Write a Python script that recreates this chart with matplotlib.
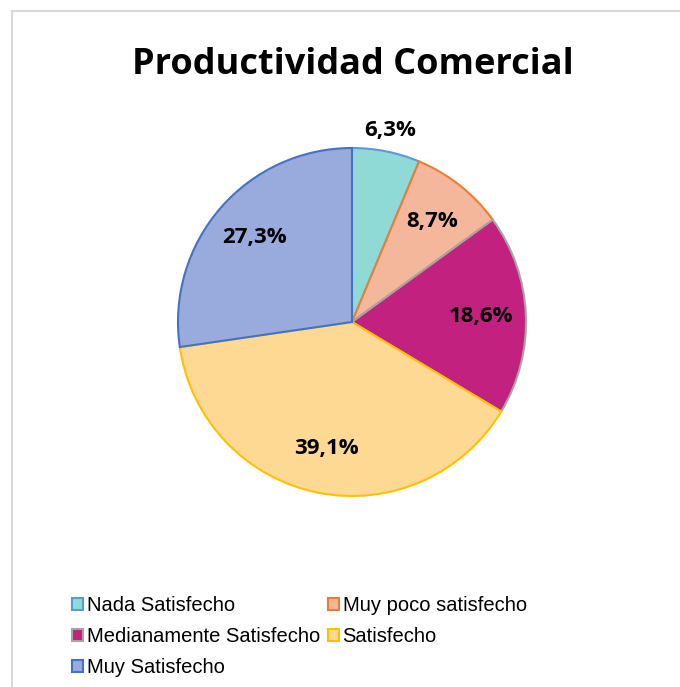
import numpy as np
import matplotlib.pyplot as plt
from matplotlib.patches import Rectangle

# Datos del gráfico
categorias = ['Nada Satisfecho', 'Muy poco satisfecho', 'Medianamente Satisfecho',
              'Satisfecho', 'Muy Satisfecho']
porcentajes = [6.3, 8.7, 18.6, 39.1, 27.3]

relleno = ['#8fd9d6', '#f5b79b', '#c2217f', '#fed993', '#99aadc']
bordes = ['#5b9bd5', '#ed7d31', '#a5a5a5', '#ffc000', '#4472c4']

W, H = 680, 687
fig = plt.figure(figsize=(W / 100, H / 100), dpi=100)

# Marco gris del área del gráfico (recortado a la derecha y abajo)
fig.patches.append(Rectangle((11.5 / W, -0.1), 1.2, 1 - 10.5 / H + 0.1,
                             transform=fig.transFigure, fill=False,
                             edgecolor='#d9d9d9', linewidth=1.5))

fig.text(353 / W, 1 - 65 / H, 'Productividad Comercial', ha='center', va='center',
         fontsize=26, fontweight='bold', family='Open Sans')

cx, cy, r = 352, 322, 174
ax = fig.add_axes([(cx - r) / W, (H - cy - r) / H, 2 * r / W, 2 * r / H])

wedges, textos, pcts = ax.pie(
    porcentajes, colors=relleno, startangle=90, counterclock=False,
    autopct=lambda p: f'{p:.1f}%'.replace('.', ','), pctdistance=0.74,
    wedgeprops=dict(linewidth=1.5),
    textprops=dict(fontsize=16, fontweight='bold', family='Open Sans'))

for w, c in zip(wedges, bordes):
    w.set_edgecolor(c)

# La etiqueta de la porción pequeña va fuera del pastel
th = np.deg2rad((wedges[0].theta1 + wedges[0].theta2) / 2)
pcts[0].set_position((1.12 * np.cos(th), 1.12 * np.sin(th)))

ax.set_xlim(-1, 1)
ax.set_ylim(-1, 1)
ax.axis('off')

# Leyenda ordenada por filas (matplotlib llena por columnas)
orden = [0, 2, 4, 1, 3]
handles = [Rectangle((0, 0), 1, 1, facecolor=relleno[i], edgecolor=bordes[i], linewidth=1.5)
           for i in orden]
fig.legend(handles, [categorias[i] for i in orden], loc='upper left',
           bbox_to_anchor=(54 / W, 1 - 578 / H),
           ncol=2, frameon=False, handlelength=0.55, handleheight=0.55,
           handletextpad=0.2, columnspacing=0.35, labelspacing=0.6,
           prop=dict(family='Liberation Sans', size=14.5))

fig.savefig('out.png', dpi=100)
